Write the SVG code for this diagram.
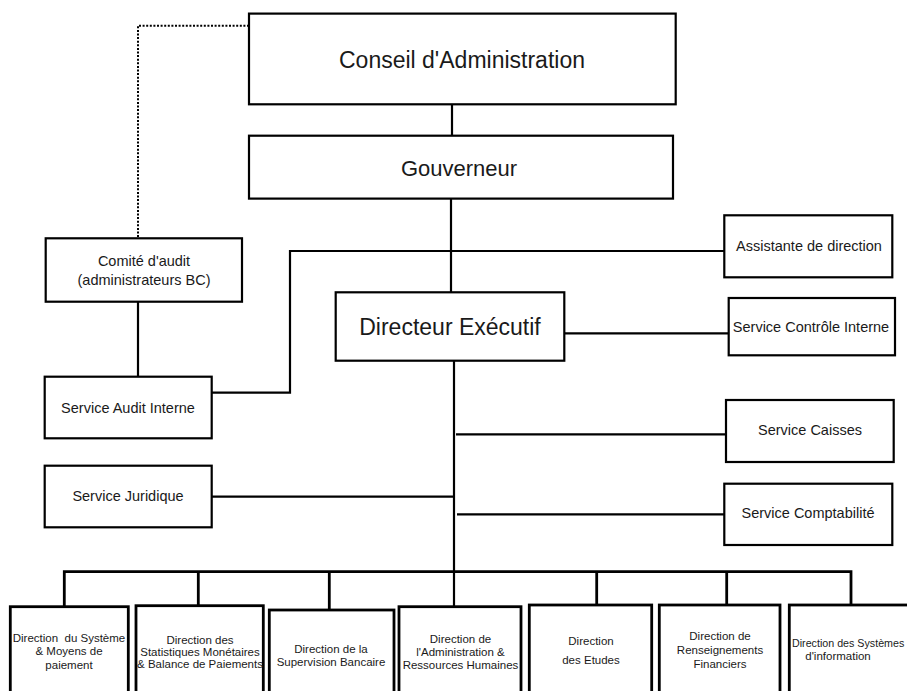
<svg xmlns="http://www.w3.org/2000/svg" width="907" height="691" viewBox="0 0 907 691">
<style>
  .box { fill: #ffffff; stroke: #000000; stroke-width: 2.2; }
  .dbox { fill: #ffffff; stroke: #000000; stroke-width: 2.8; }
  .ln { fill: none; stroke: #000000; stroke-width: 2.2; }
  .bus { fill: none; stroke: #000000; stroke-width: 2.8; }
  .dot { fill: none; stroke: #000000; stroke-width: 2; stroke-dasharray: 2 1.6; }
  text { font-family: "Liberation Sans", Arial, sans-serif; fill: #1a1a1a; text-anchor: middle; white-space: pre; }
  .big { font-size: 22px; }
  .mid { font-size: 14.5px; }
  .sm { font-size: 11.5px; }
</style>
<rect width="907" height="691" fill="#ffffff"/>

<g id="connectors">
  <path class="dot" d="M249,25.7 H138 V238"/>
  <path class="ln" d="M452,104 V136"/>
  <path class="ln" d="M451,198.6 V292.3"/>
  <path class="ln" d="M212,392.7 H290 V251 H724.3"/>
  <path class="ln" d="M138,302 V376.7"/>
  <path class="ln" d="M564.3,333.3 H728.7"/>
  <path class="ln" d="M454,360.7 V609"/>
  <path class="ln" d="M456,434.3 H726"/>
  <path class="ln" d="M212,496.7 H454"/>
  <path class="ln" d="M457,514.3 H724.3"/>
  <path class="bus" d="M64.3,606.7 V571.7 H851 V605"/>
  <path class="bus" d="M198.3,571.7 V605.7"/>
  <path class="bus" d="M329.3,571.7 V610"/>
  <path class="bus" d="M596.7,571.7 V605"/>
  <path class="bus" d="M726.7,571.7 V605"/>
</g>

<g id="conseil">
  <rect class="box" x="249" y="13.6" width="426.7" height="90.7"/>
  <text class="big" x="462" y="67.5" style="font-size:23px">Conseil d'Administration</text>
</g>
<g id="gouverneur">
  <rect class="box" x="249" y="135.7" width="424" height="62.9"/>
  <text class="big" x="459" y="175.5">Gouverneur</text>
</g>
<g id="comite">
  <rect class="box" x="45.7" y="238.3" width="196.3" height="63.4"/>
  <text class="mid" x="144" y="266">Comité d'audit</text>
  <text class="mid" x="144" y="284.5">(administrateurs BC)</text>
</g>
<g id="directeur">
  <rect class="box" x="335.7" y="292.3" width="228.6" height="68.4"/>
  <text class="big" x="450" y="335" style="font-size:23px">Directeur Exécutif</text>
</g>
<g id="assistante">
  <rect class="box" x="724.3" y="215.3" width="168" height="62"/>
  <text class="mid" x="809" y="251">Assistante de direction</text>
</g>
<g id="controle">
  <rect class="box" x="728.7" y="298" width="166.3" height="57.3"/>
  <text class="mid" x="811" y="332">Service Contrôle Interne</text>
</g>
<g id="audit-interne">
  <rect class="box" x="44.7" y="376.7" width="167" height="61.6"/>
  <text class="mid" x="128" y="412.5">Service Audit Interne</text>
</g>
<g id="caisses">
  <rect class="box" x="726" y="400" width="167.7" height="62"/>
  <text class="mid" x="810" y="435">Service Caisses</text>
</g>
<g id="juridique">
  <rect class="box" x="44.7" y="465.7" width="167" height="61.6"/>
  <text class="mid" x="128" y="501">Service Juridique</text>
</g>
<g id="comptabilite">
  <rect class="box" x="724.3" y="483.7" width="168" height="61.3"/>
  <text class="mid" x="808" y="518">Service Comptabilité</text>
</g>

<g id="dir-systeme-moyens">
  <rect class="dbox" x="10.3" y="606.7" width="118" height="100"/>
  <text class="sm" x="69" y="641.5">Direction  du Système</text>
  <text class="sm" x="69" y="655">&amp; Moyens de</text>
  <text class="sm" x="69" y="669">paiement</text>
</g>
<g id="dir-statistiques">
  <rect class="dbox" x="136" y="605.7" width="127.3" height="100"/>
  <text class="sm" x="200" y="643.5">Direction des</text>
  <text class="sm" x="200" y="656">Statistiques Monétaires</text>
  <text class="sm" x="200" y="668">&amp; Balance de Paiements</text>
</g>
<g id="dir-supervision">
  <rect class="dbox" x="269.3" y="610" width="124.7" height="100"/>
  <text class="sm" x="331" y="652.5">Direction de la</text>
  <text class="sm" x="331" y="666">Supervision Bancaire</text>
</g>
<g id="dir-administration">
  <rect class="dbox" x="399" y="606.7" width="122" height="100"/>
  <text class="sm" x="460.5" y="643">Direction de</text>
  <text class="sm" x="460.5" y="656">l'Administration &amp;</text>
  <text class="sm" x="460.5" y="669">Ressources Humaines</text>
</g>
<g id="dir-etudes">
  <rect class="dbox" x="529.3" y="605" width="122.4" height="100"/>
  <text class="sm" x="591" y="645">Direction</text>
  <text class="sm" x="591" y="664">des Etudes</text>
</g>
<g id="dir-renseignements">
  <rect class="dbox" x="659.3" y="605" width="120.7" height="100"/>
  <text class="sm" x="720" y="640">Direction de</text>
  <text class="sm" x="720" y="654">Renseignements</text>
  <text class="sm" x="720" y="667.5">Financiers</text>
</g>
<g id="dir-systemes-info">
  <rect class="dbox" x="789.3" y="605" width="125" height="100"/>
  <text class="sm" x="792" y="646.5" style="text-anchor:start;font-size:10.7px">Direction des Systèmes</text>
  <text class="sm" x="838" y="660">d'information</text>
</g>
</svg>
